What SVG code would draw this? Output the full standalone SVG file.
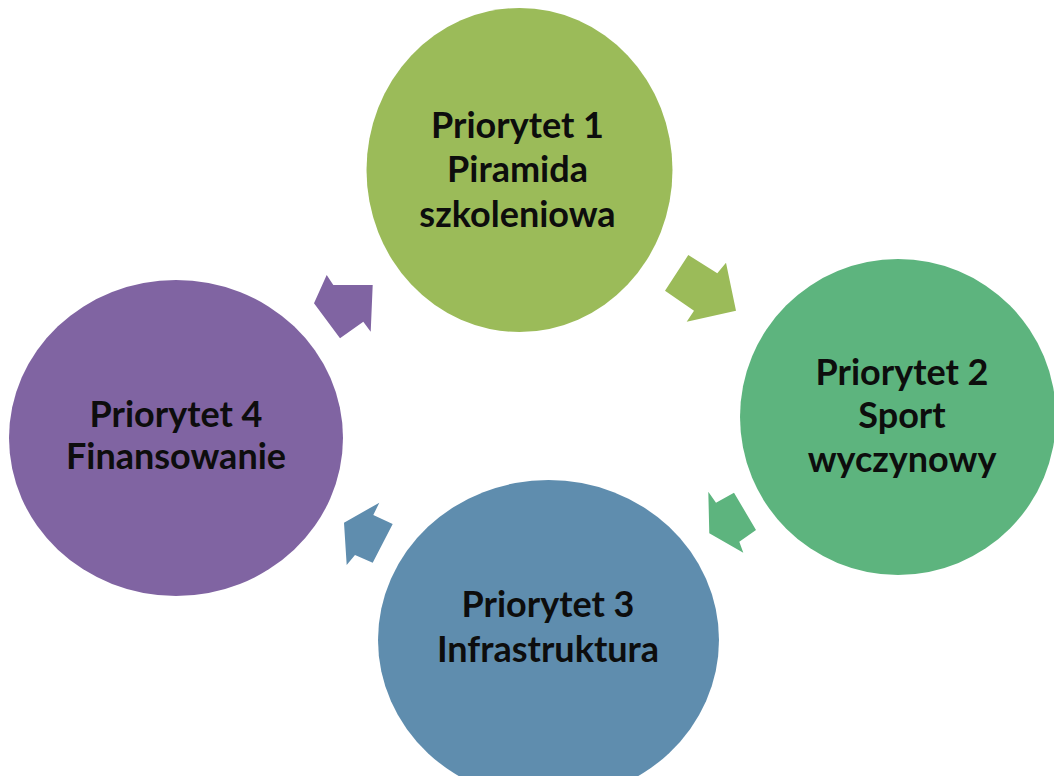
<svg xmlns="http://www.w3.org/2000/svg" width="1054" height="776" viewBox="0 0 1054 776">
<style>
.lbl{font-family:Lato,"Open Sans","Liberation Sans",sans-serif;font-weight:700;font-size:36px;fill:#0d0d0d;text-anchor:middle}
</style>
<rect width="1054" height="776" fill="#ffffff"/>
<g id="connectors">
<polygon points="665,290.7 688.3,255 717.3,273.3 726,262.7 736,310.7 686.7,321.7 694,310.7" fill="#9bbb59"/>
<polygon points="734,492.7 756,530 739.3,541.7 743.3,552.7 709.3,533.3 708.3,491.7 716,502.7" fill="#5db47e"/>
<polygon points="379.3,502.7 373.3,515 392.7,524 372.7,562.7 355,555 346.7,565 344,522.7" fill="#5f8dae"/>
<polygon points="326.7,275 333.3,285 372.7,285 370.7,331.7 363.3,321.7 340,338.3 314,303.3" fill="#8064a2"/>
</g>
<g id="node1">
<ellipse cx="519.5" cy="170" rx="153" ry="162" fill="#9bbb59"/>
<text class="lbl" x="517.5" y="138">Priorytet 1</text>
<text class="lbl" x="517.5" y="182">Piramida</text>
<text class="lbl" x="517.5" y="227">szkoleniowa</text>
</g>
<g id="node2">
<ellipse cx="898" cy="417" rx="158" ry="158" fill="#5db47e"/>
<text class="lbl" x="902" y="385">Priorytet 2</text>
<text class="lbl" x="902" y="428">Sport</text>
<text class="lbl" x="902" y="472">wyczynowy</text>
</g>
<g id="node3">
<ellipse cx="548.5" cy="640" rx="170.5" ry="160" fill="#5f8dae"/>
<text class="lbl" x="548" y="617">Priorytet 3</text>
<text class="lbl" x="548" y="662">Infrastruktura</text>
</g>
<g id="node4">
<ellipse cx="176" cy="438" rx="167" ry="158" fill="#8064a2"/>
<text class="lbl" x="176" y="427">Priorytet 4</text>
<text class="lbl" x="176" y="469">Finansowanie</text>
</g>
</svg>
